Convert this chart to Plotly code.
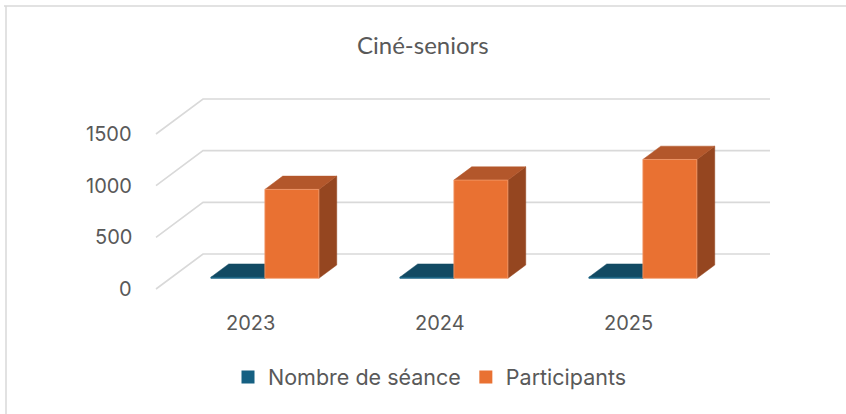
import plotly.graph_objects as go

# ---- data ----
categories = ["2023", "2024", "2025"]
series_names = ["Nombre de séance", "Participants"]
seances = [10, 10, 10]
participants = [860, 950, 1150]
y_ticks = [0, 500, 1000, 1500]
title_text = "Ciné-seniors"

# ---- style / geometry ----
W, H = 846, 414
X0_PX, Y0_PX = 156, 289          # pixel of front-plane origin
PX_PER_CAT = 189.0
PX_PER_UNIT = 155.0 / 1500.0
DX = 47.0 / PX_PER_CAT           # depth offset in category units
DY = 35.0 / PX_PER_UNIT          # depth offset in value units
D_FRONT, D_BACK = 0.306, 0.686   # bar depth placement (fraction of floor depth)
GAP = 1.5                        # gap width as fraction of bar width
N_SER = 2
BAR_W = 1.0 / (N_SER + GAP)

XMIN, XMAX = -0.5, 3.5
YMIN, YMAX = -400, 1950

TXT = "#595959"
GRID = "#d9d9d9"
FONT = "Inter"

colors = {
    0: dict(front="#156082", top="#124a63", side="#0e3b50"),
    1: dict(front="#e97132", top="#b3572b", side="#954620"),
}

def proj(x, v, d):
    return x + d * DX, v + d * DY

fig = go.Figure()

# gridlines (left wall diagonal + back wall horizontal)
for v in y_ticks:
    pts = [proj(0, v, 0), proj(0, v, 1), proj(len(categories), v, 1)]
    fig.add_trace(go.Scatter(
        x=[p[0] for p in pts], y=[p[1] for p in pts], mode="lines",
        line=dict(color=GRID, width=1.6), hoverinfo="skip", showlegend=False))

def poly(pts, color, line_color=None, lw=0):
    xs = [p[0] for p in pts] + [pts[0][0]]
    ys = [p[1] for p in pts] + [pts[0][1]]
    fig.add_trace(go.Scatter(
        x=xs, y=ys, mode="lines", fill="toself", fillcolor=color,
        line=dict(color=line_color or color, width=lw if lw else 0.5),
        hoverinfo="skip", showlegend=False))

all_vals = [seances, participants]
for i, cat in enumerate(categories):
    for s in range(N_SER):
        v = all_vals[s][i]
        xl = i + GAP * BAR_W / 2 + s * BAR_W
        xr = xl + BAR_W
        c = colors[s]
        # right side face
        poly([proj(xr, 0, D_FRONT), proj(xr, 0, D_BACK), proj(xr, v, D_BACK), proj(xr, v, D_FRONT)], c["side"])
        # top face
        poly([proj(xl, v, D_FRONT), proj(xr, v, D_FRONT), proj(xr, v, D_BACK), proj(xl, v, D_BACK)], c["top"])
        # front face
        poly([proj(xl, 0, D_FRONT), proj(xr, 0, D_FRONT), proj(xr, v, D_FRONT), proj(xl, v, D_FRONT)],
             c["front"], line_color="#f19a6c" if s == 1 else c["front"], lw=0.8)

# legend entries
for s, name in enumerate(series_names):
    fig.add_trace(go.Scatter(
        x=[None], y=[None], mode="markers", name=name,
        marker=dict(symbol="square", size=13, color=colors[s]["front"])))

annotations = []
# value axis labels (front plane)
for v in y_ticks:
    annotations.append(dict(x=0, y=v, xref="x", yref="y", text=str(v), showarrow=False,
                            xanchor="right", yanchor="middle", xshift=-22,
                            font=dict(family=FONT, size=20, color=TXT)))
# category labels
for i, cat in enumerate(categories):
    annotations.append(dict(x=i + 0.5, y=0, xref="x", yref="y", text=cat, showarrow=False,
                            xanchor="center", yanchor="middle", yshift=-34,
                            font=dict(family=FONT, size=20, color=TXT)))
# title
annotations.append(dict(x=423 / W, y=1 - 44 / H, xref="paper", yref="paper", text=title_text,
                        showarrow=False, xanchor="center", yanchor="middle",
                        font=dict(family="Lato", size=24, color=TXT)))

x_dom = [(X0_PX + XMIN * PX_PER_CAT) / W, (X0_PX + XMAX * PX_PER_CAT) / W]
y_dom = [(H - (Y0_PX - YMIN * PX_PER_UNIT)) / H, (H - (Y0_PX - YMAX * PX_PER_UNIT)) / H]

fig.update_layout(
    width=W, height=H, autosize=False,
    margin=dict(l=0, r=0, t=0, b=0),
    paper_bgcolor="white", plot_bgcolor="white",
    xaxis=dict(range=[XMIN, XMAX], domain=x_dom, visible=False, fixedrange=True),
    yaxis=dict(range=[YMIN, YMAX], domain=y_dom, visible=False, fixedrange=True),
    showlegend=True,
    legend=dict(orientation="h", x=430 / W, xanchor="center", y=1 - 377 / H, yanchor="middle",
                font=dict(family=FONT, size=21.5, color=TXT), itemwidth=30,
                bgcolor="rgba(0,0,0,0)"),
    annotations=annotations,
    shapes=[
        dict(type="line", xref="paper", yref="paper", x0=4 / W, x1=1, y0=1 - 6 / H, y1=1 - 6 / H,
             line=dict(color=GRID, width=1.5)),
        dict(type="line", xref="paper", yref="paper", x0=6 / W, x1=6 / W, y0=0, y1=1 - 6 / H,
             line=dict(color=GRID, width=1.5)),
    ],
)

fig.write_html("out.html", config={"displayModeBar": False},
               post_script="document.body.style.margin='0';document.body.style.overflow='hidden';")
